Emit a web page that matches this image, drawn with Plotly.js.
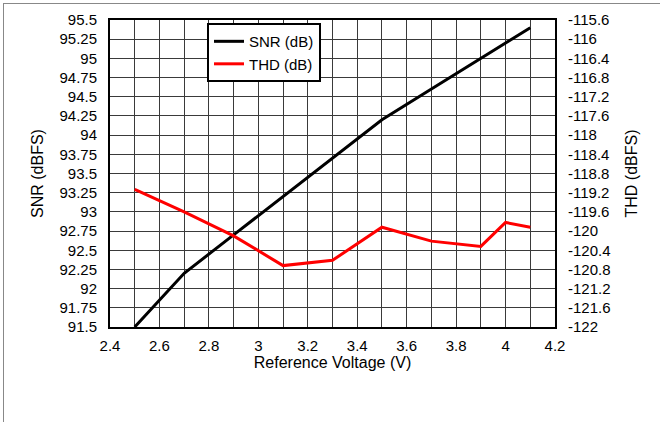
<!DOCTYPE html>
<html>
<head>
<meta charset="utf-8">
<script src="https://cdn.plot.ly/plotly-3.0.1.min.js"></script>
<style>
  html, body { margin: 0; padding: 0; background: #fff; }
  #frame { position: absolute; left: 3px; top: 3px; width: 680px; height: 440px;
           border-left: 1px solid #888; border-top: 1px solid #888; }
  #chart { position: absolute; left: 0; top: 0; width: 660px; height: 422px; }
</style>
</head>
<body>
<div id="frame"></div>
<div id="chart"></div>
<script>
// Reference voltage sweep
const snrVoltage = [2.5, 2.7, 2.9, 3.1, 3.3, 3.5, 3.7, 3.9, 4.1];
const snrValues  = [91.5, 92.2, 92.7, 93.2, 93.7, 94.2, 94.6, 95.0, 95.4];

const thdVoltage = [2.5, 2.7, 2.9, 3.1, 3.3, 3.5, 3.7, 3.9, 4.0, 4.1];
const thdValues  = [-119.13, -119.6, -120.1, -120.72, -120.61, -119.92, -120.21, -120.32, -119.82, -119.92];

// Axis tick labels
const xTickVals = [2.4, 2.6, 2.8, 3.0, 3.2, 3.4, 3.6, 3.8, 4.0, 4.2];
const xTickText = ['2.4', '2.6', '2.8', '3', '3.2', '3.4', '3.6', '3.8', '4', '4.2'];
const snrTickVals = [91.5, 91.75, 92, 92.25, 92.5, 92.75, 93, 93.25, 93.5, 93.75, 94, 94.25, 94.5, 94.75, 95, 95.25, 95.5];
const snrTickText = ['91.5', '91.75', '92', '92.25', '92.5', '92.75', '93', '93.25', '93.5', '93.75', '94', '94.25', '94.5', '94.75', '95', '95.25', '95.5'];
const thdTickVals = [-122, -121.6, -121.2, -120.8, -120.4, -120, -119.6, -119.2, -118.8, -118.4, -118, -117.6, -117.2, -116.8, -116.4, -116, -115.6];
const thdTickText = ['-122', '-121.6', '-121.2', '-120.8', '-120.4', '-120', '-119.6', '-119.2', '-118.8', '-118.4', '-118', '-117.6', '-117.2', '-116.8', '-116.4', '-116', '-115.6'];

const FONT = 'Liberation Sans, Arial, sans-serif';
const GRID = '#3a3a3a';

const traces = [
  {
    x: snrVoltage, y: snrValues, name: 'SNR (dB)', type: 'scatter', mode: 'lines',
    line: { color: '#000000', width: 3 }, yaxis: 'y'
  },
  {
    x: thdVoltage, y: thdValues, name: 'THD (dB)', type: 'scatter', mode: 'lines',
    line: { color: '#ff0000', width: 3 }, yaxis: 'y2'
  }
];

const layout = {
  width: 660, height: 422,
  margin: { l: 110, r: 105, t: 20, b: 95, pad: 0 },
  paper_bgcolor: 'rgba(0,0,0,0)',
  plot_bgcolor: '#ffffff',
  font: { family: FONT, size: 15, color: '#000' },
  showlegend: true,
  legend: {
    x: 0.218, y: 0.99, xanchor: 'left', yanchor: 'top',
    bgcolor: '#ffffff', bordercolor: '#000', borderwidth: 2,
    font: { family: FONT, size: 15, color: '#000' },
    tracegroupgap: 0
  },
  xaxis: {
    range: [2.4, 4.2],
    tickmode: 'array', tickvals: xTickVals, ticktext: xTickText,
    ticks: '', ticklabelstandoff: 4,
    showgrid: true, gridcolor: GRID, gridwidth: 1,
    minor: { dtick: 0.1, tick0: 2.4, showgrid: true, gridcolor: GRID, gridwidth: 1, ticks: '' },
    showline: true, linecolor: '#000', linewidth: 2, mirror: true,
    zeroline: false,
    title: { text: 'Reference Voltage (V)', font: { family: FONT, size: 16 }, standoff: 4 }
  },
  yaxis: {
    range: [91.5, 95.5],
    tickmode: 'array', tickvals: snrTickVals, ticktext: snrTickText,
    ticks: '', ticklabelstandoff: 8,
    showgrid: true, gridcolor: GRID, gridwidth: 1,
    showline: true, linecolor: '#000', linewidth: 2, mirror: true,
    zeroline: false,
    title: { text: 'SNR (dBFS)', font: { family: FONT, size: 16 }, standoff: 12 }
  },
  yaxis2: {
    range: [-122, -115.6],
    overlaying: 'y', side: 'right',
    tickmode: 'array', tickvals: thdTickVals, ticktext: thdTickText,
    ticks: '', ticklabelstandoff: 8,
    showgrid: false,
    showline: true, linecolor: '#000', linewidth: 2,
    zeroline: false,
    title: { text: 'THD (dBFS)', font: { family: FONT, size: 16 }, standoff: 16 }
  }
};

Plotly.newPlot('chart', traces, layout, { staticPlot: true, displayModeBar: false });
</script>
</body>
</html>
